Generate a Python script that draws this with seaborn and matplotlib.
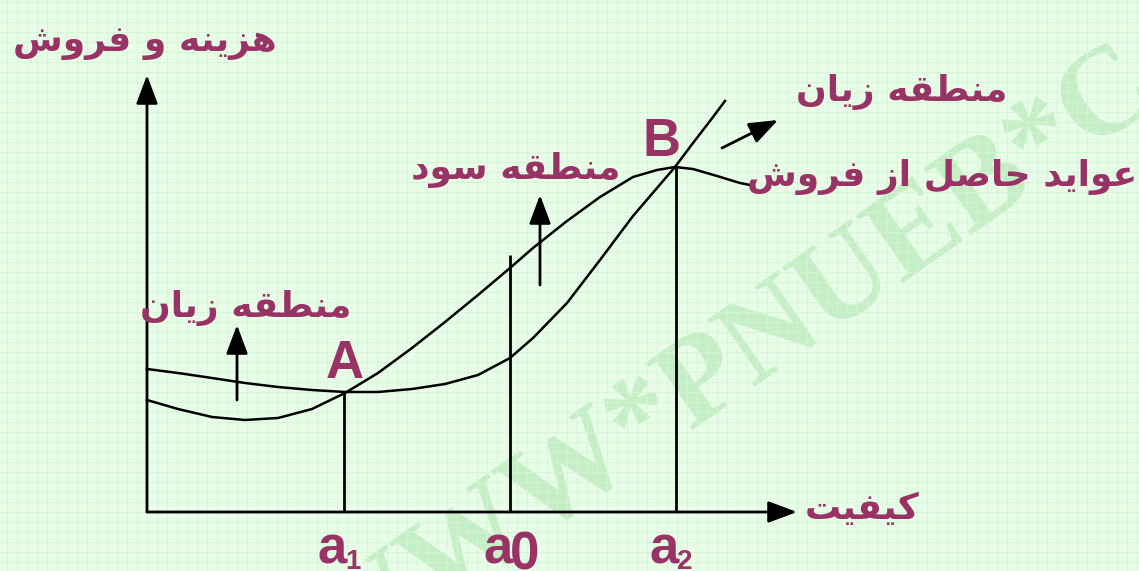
import numpy as np
import pandas as pd
import seaborn as sb
import matplotlib
matplotlib.use('Agg')
import matplotlib.pyplot as plt
from matplotlib.font_manager import FontProperties, findfont, get_font

# quantity / value (1 unit = 10 px, origin at the axes corner)
rev_x = [0, 3.1, 6.5, 9.8, 13.1, 16.5, 19.8, 23.1, 26.5, 29.8, 33.1, 36.3, 38.6, 42.0, 45.3, 48.6, 51.0, 52.8, 54.6, 57.0, 59.3, 60.3]
rev_y = [11.2, 10.3, 9.5, 9.2, 9.4, 10.3, 11.9, 13.9, 16.4, 19.0, 21.7, 24.4, 26.4, 29.1, 31.5, 33.5, 34.2, 34.5, 34.3, 33.6, 32.9, 32.7]
cost_x = [0, 3.1, 6.5, 9.8, 13.1, 16.5, 19.8, 23.1, 26.5, 29.8, 33.1, 36.3, 38.6, 42.0, 45.3, 48.6, 51.0, 52.8, 54.6, 56.3, 57.8]
cost_y = [14.3, 13.9, 13.4, 12.9, 12.5, 12.2, 12.0, 12.0, 12.3, 12.8, 13.7, 15.4, 17.4, 20.9, 25.2, 29.6, 32.4, 34.5, 36.9, 39.1, 41.1]

# the three marked quantities and the curve height at each
mark_x = [19.7, 36.3, 52.9]
mark_top = [12.0, 25.7, 34.5]
mark_names = ['a', 'a', 'a']
mark_subs = ['1', '0', '2']

y_title = 'هزینه و فروش'
x_title = 'کیفیت'
loss_label = 'منطقه زیان'
profit_label = 'منطقه سود'
revenue_label = 'عواید حاصل از فروش'

PURPLE = '#993366'

# ---- tiny arabic/persian shaper (matplotlib has no shaping) ----
FORMS = {
    '\u0627': ('\uFE8D', '\uFE8E', None, None),
    '\u062F': ('\uFEA9', '\uFEAA', None, None),
    '\u0631': ('\uFEAD', '\uFEAE', None, None),
    '\u0632': ('\uFEAF', '\uFEB0', None, None),
    '\u0648': ('\uFEED', '\uFEEE', None, None),
    '\u062A': ('\uFE95', '\uFE96', '\uFE97', '\uFE98'),
    '\u062D': ('\uFEA1', '\uFEA2', '\uFEA3', '\uFEA4'),
    '\u0633': ('\uFEB1', '\uFEB2', '\uFEB3', '\uFEB4'),
    '\u0634': ('\uFEB5', '\uFEB6', '\uFEB7', '\uFEB8'),
    '\u0635': ('\uFEB9', '\uFEBA', '\uFEBB', '\uFEBC'),
    '\u0637': ('\uFEC1', '\uFEC2', '\uFEC3', '\uFEC4'),
    '\u0639': ('\uFEC9', '\uFECA', '\uFECB', '\uFECC'),
    '\u0641': ('\uFED1', '\uFED2', '\uFED3', '\uFED4'),
    '\u0642': ('\uFED5', '\uFED6', '\uFED7', '\uFED8'),
    '\u0644': ('\uFEDD', '\uFEDE', '\uFEDF', '\uFEE0'),
    '\u0645': ('\uFEE1', '\uFEE2', '\uFEE3', '\uFEE4'),
    '\u0646': ('\uFEE5', '\uFEE6', '\uFEE7', '\uFEE8'),
    '\u0647': ('\uFEE9', '\uFEEA', '\uFEEB', '\uFEEC'),
    '\u06CC': ('\uFBFC', '\uFBFD', '\uFBFE', '\uFBFF'),
    '\u06A9': ('\uFB8E', '\uFB8F', '\uFB90', '\uFB91'),
}
FALLBACK = dict(zip('\uFBFC\uFBFD\uFBFE\uFBFF\uFB8E\uFB8F\uFB90\uFB91',
                    '\uFEEF\uFEF2\uFEF3\uFEF4\uFED9\uFEDA\uFEDB\uFEDC'))
ar_font = get_font(findfont(FontProperties(family='DejaVu Sans', weight='bold')))


def shape(s):
    out = []
    for i, c in enumerate(s):
        if c not in FORMS:
            out.append(c)
            continue
        prev = s[i - 1] if i > 0 else None
        nxt = s[i + 1] if i + 1 < len(s) else None
        jp = prev in FORMS and FORMS[prev][2] is not None
        jn = nxt in FORMS and FORMS[c][2] is not None
        iso, fin, ini, med = FORMS[c]
        g = med if (jp and jn) else fin if jp else ini if jn else iso
        if ar_font.get_char_index(ord(g)) == 0 and g in FALLBACK:
            g = FALLBACK[g]
        out.append(g)
    return ''.join(reversed(out))


fig = plt.figure(figsize=(11.39, 5.71), dpi=100)
fig.patch.set_facecolor('#e8fde8')
ax = fig.add_axes([0, 0, 1, 1])
ax.set_facecolor('#e8fde8')
ax.set_xlim(-14.7, 99.2)
ax.set_ylim(-5.9, 51.2)
ax.set_xticks(np.arange(-14, 100, 1))
ax.set_yticks(np.arange(-5, 52, 1))
ax.tick_params(length=0, labelbottom=False, labelleft=False)
ax.grid(True, color='#d3f5d3', lw=0.6)
for s in ax.spines.values():
    s.set_visible(False)

# watermark
ax.text(58.3, 14.6, 'WWW*PNUEB*C', rotation=35, fontsize=90, color='#c6eec6',
        family='Liberation Serif', weight='bold', ha='center', va='center',
        rotation_mode='anchor', zorder=1)

# curves
sb.lineplot(x=rev_x, y=rev_y, sort=False, estimator=None, color='black', lw=1.8,
            solid_joinstyle='round', ax=ax, zorder=3)
sb.lineplot(x=cost_x, y=cost_y, sort=False, estimator=None, color='black', lw=1.8,
            solid_joinstyle='round', ax=ax, zorder=3)
ax.vlines(mark_x, 0, mark_top, color='black', lw=2.0, zorder=3)

arr = dict(arrowstyle='-|>,head_length=0.8,head_width=0.3', color='black', lw=2.0,
           mutation_scale=22, shrinkA=0, shrinkB=0)
ax.annotate('', xy=(0, 43.7), xytext=(0, 0), arrowprops=arr, zorder=4)
ax.annotate('', xy=(65.0, 0), xytext=(0, 0), arrowprops=arr, zorder=4)
ax.annotate('', xy=(9.0, 18.7), xytext=(9.0, 11.2), arrowprops=arr, zorder=4)
ax.annotate('', xy=(39.3, 31.7), xytext=(39.3, 22.7), arrowprops=arr, zorder=4)
ax.annotate('', xy=(63.1, 39.2), xytext=(57.5, 36.4), arrowprops=arr, zorder=4)

fa = dict(family='DejaVu Sans', weight='bold', color=PURPLE, ha='center', va='center', fontsize=26, zorder=5)
ax.text(-0.2, 46.9, shape(y_title), **fa)
ax.text(75.5, 42.0, shape(loss_label), **fa)
ax.text(79.5, 33.5, shape(revenue_label), **fa)
ax.text(36.9, 34.2, shape(profit_label), **fa)
ax.text(9.9, 20.4, shape(loss_label), **fa)
ax.text(71.5, 0.3, shape(x_title), **fa)

la = dict(family='Liberation Sans', weight='bold', color=PURPLE, ha='center', va='center', zorder=5)
ax.text(19.8, 14.8, 'A', fontsize=38, **la)
ax.text(51.5, 37.0, 'B', fontsize=38, **la)
for x, n, sub in zip(mark_x, mark_names, mark_subs):
    ax.text(x - 1.2, -3.7, n, fontsize=38, **la)
    if sub == '0':
        ax.text(x + 1.5, -4.4, sub, fontsize=38, **la)
    else:
        ax.text(x + 0.9, -5.0, sub, fontsize=20, **la)

fig.savefig('out.png', dpi=100, facecolor=fig.get_facecolor())
